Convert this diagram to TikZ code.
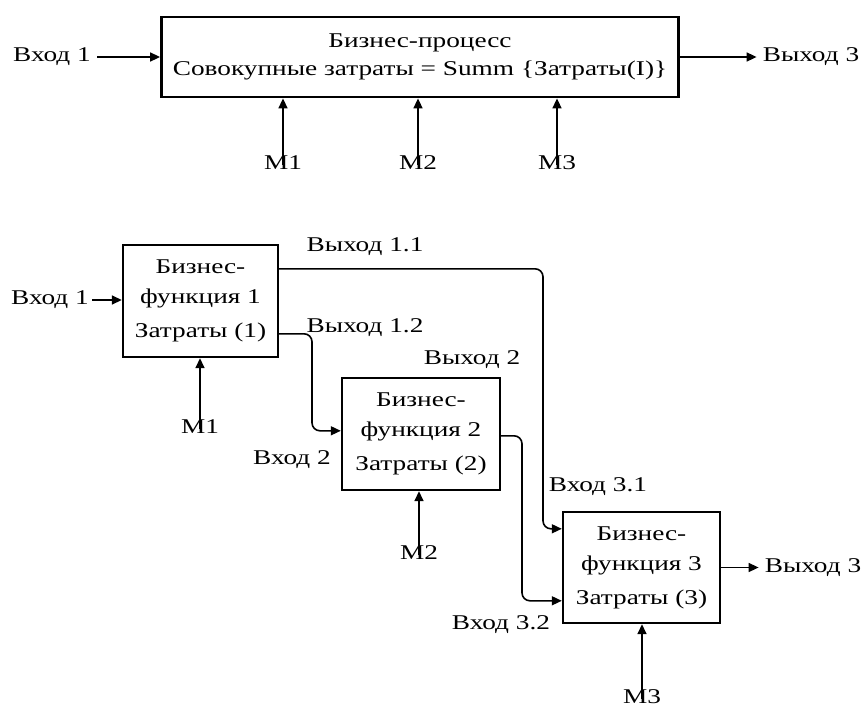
\documentclass[tikz,border=0pt]{standalone}
\usepackage{fontspec}
\setmainfont{Liberation Serif}[FakeStretch=1.3]
\usetikzlibrary{arrows.meta,calc}
\begin{document}
\begin{tikzpicture}[x=1pt,y=-1pt,
  every node/.style={font=\fontsize{21}{28}\selectfont, inner sep=0pt},
  bigbox/.style={draw, line width=2.8pt, minimum width=517pt, minimum height=80pt, align=center},
  fbox/.style={draw, line width=2.4pt, align=center, font=\fontsize{21}{30}\selectfont},
  conn/.style={line width=1.6pt, -{Triangle[length=10pt,width=9pt]}},
  lbl/.style={}
]
\useasboundingbox (0,0) rectangle (863,707);

% ---------- top ----------
\node[bigbox] (top) at (420,57) {Бизнес-процесс\\Совокупные затраты = Summ \{Затраты(I)\}};
\node[lbl] (tin) at (52,57) {Вход 1};
\node[lbl] (tout) at (811,57) {Выход 3};
\node[lbl] (tm1) at (283,163) {M1};
\node[lbl] (tm2) at (418,163) {M2};
\node[lbl] (tm3) at (557,163) {M3};
\draw[conn] ([xshift=6pt]tin.east) -- (top.west);
\draw[conn] (top.east) -- ([xshift=-6pt]tout.west);
\draw[conn] ([yshift=-9pt]tm1.north) -- (tm1.north |- top.south);
\draw[conn] ([yshift=-9pt]tm2.north) -- (tm2.north |- top.south);
\draw[conn] ([yshift=-9pt]tm3.north) -- (tm3.north |- top.south);

% ---------- bottom ----------
\node[fbox, minimum width=155pt, minimum height=112pt] (b1) at (200.5,301) {Бизнес-\\функция 1\\[4pt]Затраты (1)};
\node[fbox, minimum width=158pt, minimum height=112pt] (b2) at (421,434) {Бизнес-\\функция 2\\[4pt]Затраты (2)};
\node[fbox, minimum width=157pt, minimum height=111pt] (b3) at (641.5,567.5) {Бизнес-\\функция 3\\[4pt]Затраты (3)};

\node[lbl] (bin) at (50,300) {Вход 1};
\node[lbl] (o11) at (365,247) {Выход 1.1};
\node[lbl] (o12) at (365,328) {Выход 1.2};
\node[lbl] (o2) at (472,360) {Выход 2};
\node[lbl] (i2) at (292,460) {Вход 2};
\node[lbl] (i31) at (598,487) {Вход 3.1};
\node[lbl] (i32) at (501,625) {Вход 3.2};
\node[lbl] (bout) at (813,567.5) {Выход 3};
\node[lbl] (bm1) at (200,427) {M1};
\node[lbl] (bm2) at (419,553) {M2};
\node[lbl] (bm3) at (642,697) {M3};

\coordinate (k11) at (543,400);
\coordinate (k12) at (312,380);
\coordinate (k2) at (522,520);

\draw[conn] ([xshift=3pt]bin.east) -- (bin.east -| b1.west);
\draw[conn, rounded corners=8pt] ($(b1.north east)+(0,25)$) -| (k11) |- ($(b3.north west)+(0,18)$);
\draw[conn, rounded corners=8pt] ($(b1.north east)+(0,90)$) -| (k12) |- ($(b2.north west)+(0,54)$);
\draw[conn, rounded corners=8pt] ($(b2.north east)+(0,59)$) -| (k2) |- ($(b3.north west)+(0,90)$);
\draw[conn] (b3.east) -- ([xshift=-6pt]bout.west);
\draw[conn] ([yshift=-9pt]bm1.north) -- (bm1.north |- b1.south);
\draw[conn] ([yshift=-9pt]bm2.north) -- (bm2.north |- b2.south);
\draw[conn] ([yshift=-9pt]bm3.north) -- (bm3.north |- b3.south);
\end{tikzpicture}
\end{document}
